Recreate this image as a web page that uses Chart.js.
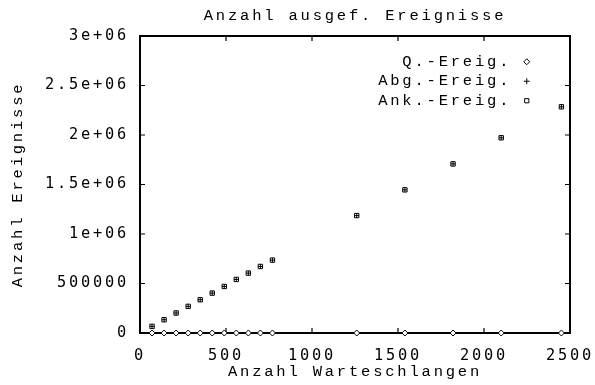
<!DOCTYPE html>
<html>
<head>
<meta charset="utf-8">
<script src="https://cdn.jsdelivr.net/npm/chart.js@4/dist/chart.umd.min.js"></script>
<style>
  html, body { margin: 0; padding: 0; background: #fff; }
  #wrap { width: 595px; height: 385px; }
</style>
</head>
<body>
<div id="wrap"><canvas id="c"></canvas></div>
<script>
// Number of queues (x) and executed events per kind (y)
const queues = [70, 140, 210, 280, 350, 420, 490, 560, 630, 700, 770, 1260, 1540, 1820, 2100, 2450];
const qEvents = [0, 0, 0, 0, 0, 0, 0, 0, 0, 0, 0, 0, 0, 0, 0, 0];
const abgEvents = [67000, 134000, 202000, 269000, 336000, 403000, 470000, 541000, 605000, 672000, 736000, 1186000, 1446000, 1708000, 1972000, 2285000];
const ankEvents = [67000, 134000, 202000, 269000, 336000, 403000, 470000, 541000, 605000, 672000, 736000, 1186000, 1446000, 1708000, 1972000, 2285000];

const seriesNames = ['Q.-Ereig.', 'Abg.-Ereig.', 'Ank.-Ereig.'];
const xTickLabels = ['0', '500', '1000', '1500', '2000', '2500'];
const yTickLabels = ['0', '500000', '1e+06', '1.5e+06', '2e+06', '2.5e+06', '3e+06'];

const TEXT_FONT = 'Liberation Mono';
const TICK_FONT = 'DejaVu Sans Mono';
const SPACING = '2.8px';

const points = (ys) => queues.map((q, i) => ({ x: q, y: ys[i] }));

// wide letter spacing for all canvas text
const spacingPlugin = {
  id: 'spacing',
  beforeUpdate(chart) { chart.ctx.letterSpacing = SPACING; },
  beforeLayout(chart) { chart.ctx.letterSpacing = SPACING; },
  beforeDraw(chart) { chart.ctx.letterSpacing = SPACING; }
};

// key box in the upper right corner of the plot
const keyPlugin = {
  id: 'keyBox',
  afterLayout(chart) {
    const lg = chart.legend, a = chart.chartArea;
    if (!lg) return;
    lg.left = a.left;
    lg.right = a.right - 31.5;
    lg.width = lg.right - lg.left;
    lg.top = a.top + 14;
    lg.bottom = a.bottom;
    lg.height = lg.bottom - lg.top;
  }
};

// border frame with inward tick marks on all four sides
const framePlugin = {
  id: 'frame',
  beforeDatasetsDraw(chart) {
    const { ctx, chartArea: a, scales: { x, y } } = chart;
    const t = 5;
    ctx.save();
    ctx.strokeStyle = '#000';
    ctx.lineWidth = 1.2;
    ctx.beginPath();
    x.ticks.forEach(tk => {
      const px = x.getPixelForValue(tk.value);
      ctx.moveTo(px, a.bottom); ctx.lineTo(px, a.bottom - t);
      ctx.moveTo(px, a.top); ctx.lineTo(px, a.top + t);
    });
    y.ticks.forEach(tk => {
      const py = y.getPixelForValue(tk.value);
      ctx.moveTo(a.left, py); ctx.lineTo(a.left + t, py);
      ctx.moveTo(a.right, py); ctx.lineTo(a.right - t, py);
    });
    ctx.stroke();
    ctx.lineWidth = 2;
    ctx.strokeRect(a.left, a.top, a.right - a.left, a.bottom - a.top);
    ctx.restore();
  }
};

new Chart(document.getElementById('c'), {
  type: 'scatter',
  data: {
    datasets: [
      { label: seriesNames[0], data: points(qEvents), pointStyle: 'rectRot', pointRadius: 3,
        borderColor: '#000', backgroundColor: '#fff', borderWidth: 1, clip: false },
      { label: seriesNames[1], data: points(abgEvents), pointStyle: 'cross', pointRadius: 2.3,
        borderColor: '#000', backgroundColor: '#000', borderWidth: 1, clip: false },
      { label: seriesNames[2], data: points(ankEvents), pointStyle: 'rect', pointRadius: 3.1,
        borderColor: '#000', backgroundColor: 'rgba(0,0,0,0)', borderWidth: 1, clip: false }
    ]
  },
  options: {
    responsive: true,
    maintainAspectRatio: false,
    animation: false,
    events: [],
    devicePixelRatio: 1,
    layout: { padding: { left: 0, right: 25, top: 0, bottom: 0 } },
    scales: {
      x: {
        type: 'linear', min: 0, max: 2500,
        grid: { display: false },
        border: { display: false },
        ticks: {
          stepSize: 500, padding: 6.3, color: '#000', maxRotation: 0,
          font: { family: TICK_FONT, size: 15.3 },
          callback: (v) => xTickLabels[Math.round(v / 500)]
        },
        title: {
          display: true, text: 'Anzahl Warteschlangen', color: '#000',
          font: { family: TEXT_FONT, size: 15.5 },
          padding: { top: 0, bottom: 3.7 }
        },
        afterFit: (s) => { s.height = 52; s.paddingLeft = 0; s.paddingRight = 0; }
      },
      y: {
        type: 'linear', min: 0, max: 3000000,
        grid: { display: false },
        border: { display: false },
        ticks: {
          stepSize: 500000, padding: 3, color: '#000',
          font: { family: TICK_FONT, size: 15.3 },
          callback: (v) => yTickLabels[Math.round(v / 500000)]
        },
        title: {
          display: true, text: 'Anzahl Ereignisse', color: '#000',
          font: { family: TEXT_FONT, size: 15.5 },
          padding: { top: 8.7, bottom: 0 }
        },
        afterFit: (s) => { s.width = 140; s.paddingTop = 0; s.paddingBottom = 0; }
      }
    },
    plugins: {
      title: {
        display: true, text: 'Anzahl ausgef. Ereignisse', color: '#000', fullSize: false,
        font: { family: TEXT_FONT, size: 15.5, weight: 'normal' },
        padding: { top: 6.4, bottom: 11 }
      },
      legend: {
        display: true,
        position: 'chartArea',
        align: 'start',
        rtl: true,
        textDirection: 'ltr',
        labels: {
          usePointStyle: true, boxWidth: 15.5, boxHeight: 4.2, padding: 4, color: '#000',
          font: { family: TEXT_FONT, size: 15.5 }
        }
      },
      tooltip: { enabled: false }
    }
  },
  plugins: [spacingPlugin, keyPlugin, framePlugin]
});
</script>
</body>
</html>
